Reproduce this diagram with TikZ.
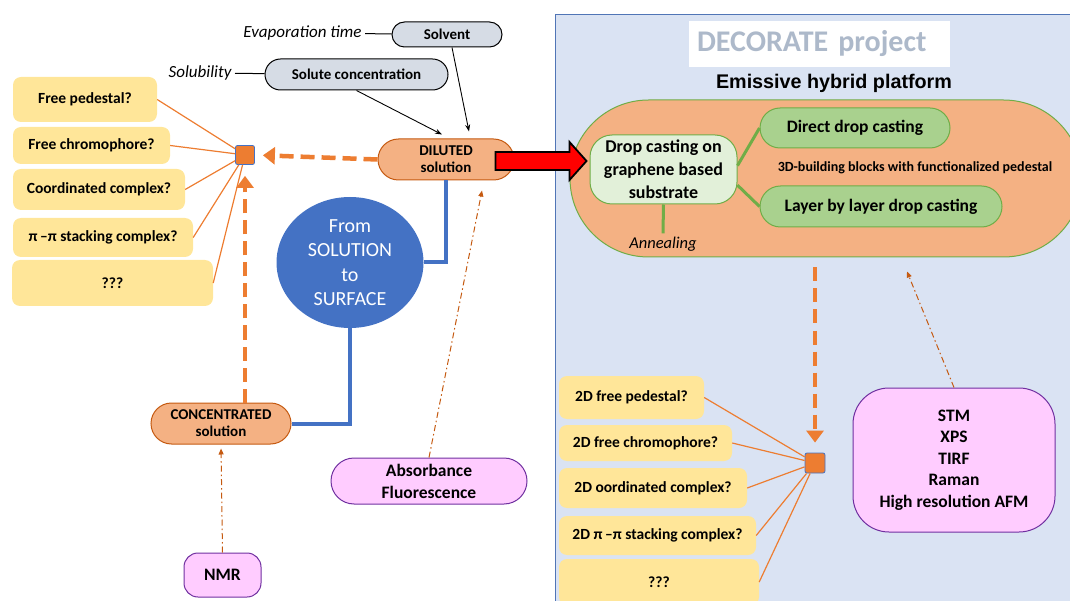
\documentclass[tikz,border=0pt]{standalone}
\usepackage{fontspec}
\setmainfont{Carlito}
\newfontfamily\arialfont{Liberation Sans}
\usetikzlibrary{shapes.misc,shapes.geometric,arrows.meta}

\definecolor{orangeline}{HTML}{ED7D31}
\definecolor{orangefill}{HTML}{F4B183}
\definecolor{orangedark}{HTML}{C55A11}
\definecolor{yellowbox}{HTML}{FFE699}
\definecolor{greyblue}{HTML}{D6DCE5}
\definecolor{panelblue}{HTML}{DAE3F3}
\definecolor{blueline}{HTML}{4472C4}
\definecolor{greenline}{HTML}{70AD47}
\definecolor{greenfill}{HTML}{A9D18E}
\definecolor{greenlight}{HTML}{E2F0D9}
\definecolor{pinkfill}{HTML}{FFCCFF}
\definecolor{purpleline}{HTML}{7030A0}
\definecolor{decogrey}{HTML}{ADB9CA}

\tikzset{
  question/.style={fill=yellowbox, rounded corners=8pt, inner sep=0pt, font=\bfseries\fontsize{15.5}{18}\selectfont},
  solution/.style={rounded rectangle, fill=orangefill, draw=orangedark, line width=1pt, inner sep=0pt, align=center, font=\bfseries\fontsize{15}{17}\selectfont},
  param/.style={rounded rectangle, fill=greyblue, draw=black, line width=1pt, inner sep=0pt, font=\bfseries\fontsize{15}{18}\selectfont},
  factor/.style={font=\itshape\fontsize{17}{20}\selectfont},
  technique/.style={fill=pinkfill, draw=purpleline, line width=1pt, inner sep=0pt, align=center, font=\bfseries\fontsize{17.5}{21.5}\selectfont},
  casting/.style={rounded rectangle, fill=greenfill, draw=greenline, line width=1pt, inner sep=0pt, font=\bfseries\fontsize{17.5}{21}\selectfont},
  hub/.style={fill=orangeline, draw=blueline, line width=0.8pt, rounded corners=2pt, minimum size=19pt, inner sep=0pt},
  spoke/.style={draw=orangeline, line width=1.2pt},
  flow/.style={draw=orangeline, line width=4.5pt, dash pattern=on 14pt off 7pt, -{Triangle[length=12pt,width=17pt]}},
  probe/.style={draw=orangedark, line width=1pt, dash pattern=on 6pt off 3pt on 1.5pt off 3pt, -{Triangle[length=6pt,width=5pt]}},
  feed/.style={draw=black, line width=0.9pt, -{Stealth[length=7pt,width=5pt]}},
  link/.style={draw=blueline, line width=4pt},
  branch/.style={draw=greenline, line width=3pt},
}

\begin{document}
\begin{tikzpicture}[x=1pt, y=-1pt]
\useasboundingbox (0,0) rectangle (1070,601);

% surface side panel
\fill[panelblue] (555,15) rectangle (1075,606);
\draw[blueline!80!gray, line width=1pt] (555,606) -- (555,15) -- (1075,15);
\node[fill=white, text width=245pt, inner xsep=8pt, minimum height=46pt, align=left, text=decogrey,
  font=\bfseries\fontsize{30}{36}\selectfont] (deco) at (819.5,44) {DECORATE project};
\node[font=\arialfont\bfseries\fontsize{19.75}{24}\selectfont] (emissive) at (834,83) {Emissive hybrid platform};

\node[rounded rectangle, fill=orangefill, draw=greenline, line width=1pt, minimum width=512pt,
  minimum height=157pt, inner sep=0pt] (platform) at (826,178.5) {};
\node[fill=greenlight, draw=greenline, line width=1pt, rounded corners=22pt, minimum width=147pt,
  minimum height=69pt, inner sep=0pt, align=center, font=\bfseries\fontsize{18}{23}\selectfont]
  (dropcast) at (663.5,169.5) {Drop casting on\\graphene based\\substrate};
\node[casting, minimum width=190pt, minimum height=40pt] (direct) at (855,128) {Direct drop casting};
\node[casting, minimum width=242pt, minimum height=41pt] (layer) at (881,206.5) {Layer by layer drop casting};
\node[font=\bfseries\fontsize{14}{17}\selectfont] (blocks) at (915,168) {3D-building blocks with functionalized pedestal};
\node[font=\itshape\fontsize{16.5}{20}\selectfont] (anneal) at (663,244) {Annealing};
\draw[branch] (dropcast.3) -- (direct.west);
\draw[branch] (dropcast.-12) -- (layer.west);
\draw[branch] (dropcast.south) -- (anneal.north);

% solution side
\node[factor, anchor=east] (evap) at (365,33) {Evaporation time};
\node[param, minimum width=110pt, minimum height=25pt] (solvent) at (447,34.5) {Solvent};
\node[factor, anchor=east] (solub) at (235,73) {Solubility};
\node[param, minimum width=183pt, minimum height=31pt] (solute) at (356.5,74.5) {Solute concentration};
\draw[line width=1pt] (evap) -- (solvent);
\draw[line width=1pt] (solub) -- (solute);

\node[solution, minimum width=136pt, minimum height=41pt] (diluted) at (446,159.5) {DILUTED\\solution};
\node[solution, minimum width=140pt, minimum height=41pt] (conc) at (221,423.5) {CONCENTRATED\\solution};
\draw[feed] (solute.south) -- ([xshift=-4pt,yshift=4pt]diluted.north);
\draw[feed] ([xshift=5pt]solvent.south) -- ([xshift=23pt,yshift=7pt]diluted.north);

\node[ellipse, fill=blueline, minimum width=147pt, minimum height=131pt, inner sep=0pt, text=white,
  align=center, font=\fontsize{20}{24.4}\selectfont] (surface) at (350,262.5) {From\\SOLUTION\\to\\SURFACE};
\draw[link] (diluted.south) |- (surface.east);
\draw[link] (surface.south) |- (conc.east);

% red transfer arrow
\draw[fill=red, draw=black, line width=1.8pt, line join=miter]
  ([xshift=-19pt,yshift=-1.5pt]diluted.east) ++(0,-9) -- ++(74,0) -- ++(0,-10) -- ++(17,19)
  -- ++(-17,19) -- ++(0,-10) -- ++(-74,0) -- cycle;

% questions in solution
\node[hub] (hubsol) at (245,155) {};
\node[question, minimum width=144pt, minimum height=45pt] (freeped) at (85,99.5) {Free pedestal?};
\node[question, minimum width=157pt, minimum height=37pt] (freechrom) at (91.5,145.5) {Free chromophore?};
\node[question, minimum width=172pt, minimum height=41pt] (coord) at (99,189.5) {Coordinated complex?};
\node[question, minimum width=180pt, minimum height=39pt] (stack) at (103,237.5) {π\,–π stacking complex?};
\node[question, minimum width=201pt, minimum height=46pt] (unknown) at (112.5,283) {???};
\foreach \q in {freeped,freechrom,coord,stack,unknown}
  \draw[spoke] (\q.east) -- (hubsol);
\draw[flow, shorten >=8pt] (diluted.west) -- (hubsol.east);
\draw[flow, shorten >=11pt] (conc.north -| hubsol) -- (hubsol.south);

% characterisation
\node[technique, rounded corners=14pt, minimum width=77pt, minimum height=44pt] (nmr) at (222.5,575) {NMR};
\node[technique, rounded rectangle, font=\bfseries\fontsize{17.5}{22}\selectfont, minimum width=196pt,
  minimum height=46pt] (absorb) at (429,481) {Absorbance\\Fluorescence};
\node[technique, rounded corners=36pt, minimum width=202pt, minimum height=144pt] (stm) at (954,460)
  {STM\\XPS\\TIRF\\Raman\\High resolution AFM};
\draw[probe, shorten >=4pt] (nmr.north) -- (conc.south);
\draw[probe] (absorb.north) -- ([xshift=36pt,yshift=-10pt]diluted.south);
\draw[probe] (stm.north) -- ([xshift=81pt,yshift=-14pt]platform.south);

% questions on surface
\node[hub, minimum size=20pt] (hubsurf) at (815,463) {};
\node[question, minimum width=145pt, minimum height=43pt] (sfreeped) at (631.5,397.5) {2D free pedestal?};
\node[question, minimum width=173pt, minimum height=36pt] (sfreechrom) at (645.5,443) {2D free chromophore?};
\node[question, minimum width=188pt, minimum height=40pt] (scoord) at (653,488) {2D oordinated complex?};
\node[question, minimum width=197pt, minimum height=39pt] (sstack) at (657.5,535.5) {2D π\,–π stacking complex?};
\node[question, minimum width=200pt, minimum height=46pt] (sunknown) at (659,582) {???};
\foreach \q in {sfreeped,sfreechrom,scoord,sstack,sunknown}
  \draw[spoke] (\q.east) -- (hubsurf);
\draw[flow, shorten <=10pt, shorten >=10pt] (hubsurf |- platform.south) -- (hubsurf.north);
\end{tikzpicture}
\end{document}
